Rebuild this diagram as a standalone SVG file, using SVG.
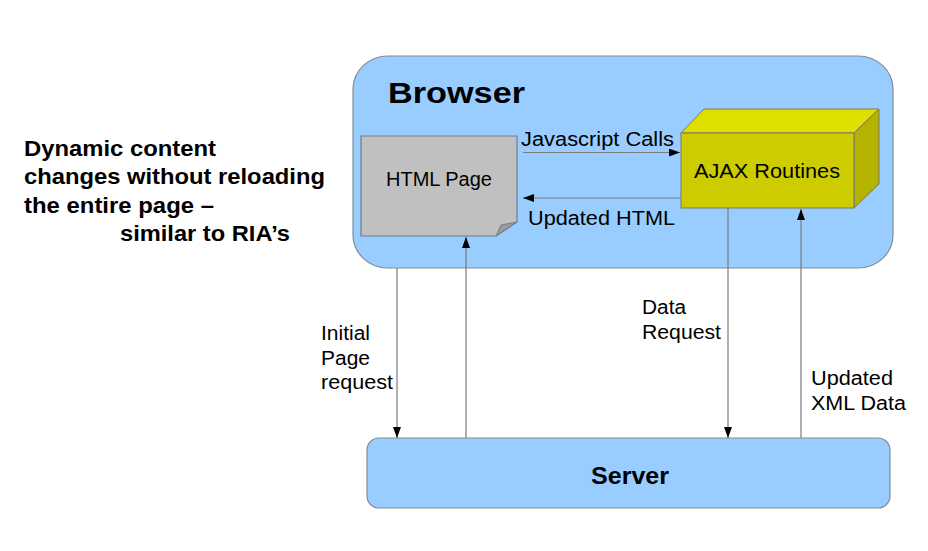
<svg xmlns="http://www.w3.org/2000/svg" width="928" height="551" viewBox="0 0 928 551">
<defs>
<style>
.t{font-family:"Liberation Sans",Arial,sans-serif;fill:#000}
.b{font-weight:bold}
.ln{stroke:#7a7a7a;stroke-width:1.2;fill:none}
.box{fill:#99ccff;stroke:#7f8c99;stroke-width:1.2}
</style>
<marker id="ah" viewBox="0 0 11 8" refX="11" refY="4" markerWidth="11" markerHeight="8" markerUnits="userSpaceOnUse" orient="auto">
<path d="M0,0 L11,4 L0,8 Z" fill="#000"/>
</marker>
</defs>
<rect width="928" height="551" fill="#fff"/>
<g id="caption">
<text class="t b" x="24" y="156" font-size="22" textLength="192" lengthAdjust="spacingAndGlyphs">Dynamic content</text>
<text class="t b" x="24" y="184" font-size="22" textLength="301" lengthAdjust="spacingAndGlyphs">changes without reloading</text>
<text class="t b" x="24" y="213" font-size="22" textLength="190" lengthAdjust="spacingAndGlyphs">the entire page –</text>
<text class="t b" x="120" y="241" font-size="22" textLength="170" lengthAdjust="spacingAndGlyphs">similar to RIA’s</text>
</g>
<g id="browser">
<rect class="box" x="353" y="56" width="540" height="212" rx="35" ry="33"/>
<text class="t b" x="388" y="103" font-size="30" textLength="137" lengthAdjust="spacingAndGlyphs">Browser</text>
</g>
<g id="html-page">
<path d="M361,136 H517 V222 L496,236 H361 Z" fill="#c0c0c0" stroke="#6f7f8f" stroke-width="1.2"/>
<path d="M496,236 L517,222 L501,225 Z" fill="#9a9a9a" stroke="#6f7f8f" stroke-width="1"/>
<text class="t" x="386" y="186" font-size="20" textLength="106" lengthAdjust="spacingAndGlyphs">HTML Page</text>
</g>
<g id="ajax">
<path d="M681,133 L704,109 H879 L854,133 Z" fill="#e0e000" stroke="#7a7a5a" stroke-width="1"/>
<path d="M854,133 L879,109 V184 L854,208 Z" fill="#b3b300" stroke="#7a7a5a" stroke-width="1"/>
<rect x="681" y="133" width="173" height="75" fill="#cccc00" stroke="#7a7a5a" stroke-width="1"/>
<text class="t" x="694" y="178" font-size="21" textLength="146" lengthAdjust="spacingAndGlyphs">AJAX Routines</text>
</g>
<g id="server">
<rect class="box" x="367" y="438" width="523" height="70" rx="12"/>
<text class="t b" x="591" y="484" font-size="24" textLength="78" lengthAdjust="spacingAndGlyphs">Server</text>
</g>
<g id="connectors">
<line class="ln" x1="523" y1="152.5" x2="680" y2="152.5" marker-end="url(#ah)"/>
<line class="ln" x1="681" y1="198" x2="523" y2="198" marker-end="url(#ah)"/>
<line class="ln" x1="397" y1="268" x2="397" y2="438" marker-end="url(#ah)"/>
<line class="ln" x1="466" y1="438" x2="466" y2="237" marker-end="url(#ah)"/>
<line class="ln" x1="728" y1="208" x2="728" y2="438" marker-end="url(#ah)"/>
<line class="ln" x1="801" y1="438" x2="801" y2="209" marker-end="url(#ah)"/>
</g>
<g id="labels">
<text class="t" x="521" y="146" font-size="20" textLength="153" lengthAdjust="spacingAndGlyphs">Javascript Calls</text>
<text class="t" x="528" y="225" font-size="20" textLength="147" lengthAdjust="spacingAndGlyphs">Updated HTML</text>
<text class="t" x="321" y="340" font-size="20" textLength="49" lengthAdjust="spacingAndGlyphs">Initial</text>
<text class="t" x="321" y="365" font-size="20" textLength="49" lengthAdjust="spacingAndGlyphs">Page</text>
<text class="t" x="321" y="389" font-size="20" textLength="72" lengthAdjust="spacingAndGlyphs">request</text>
<text class="t" x="642" y="314" font-size="20" textLength="44" lengthAdjust="spacingAndGlyphs">Data</text>
<text class="t" x="642" y="339" font-size="20" textLength="79" lengthAdjust="spacingAndGlyphs">Request</text>
<text class="t" x="811" y="385" font-size="20" textLength="82" lengthAdjust="spacingAndGlyphs">Updated</text>
<text class="t" x="811" y="410" font-size="20" textLength="95" lengthAdjust="spacingAndGlyphs">XML Data</text>
</g>
</svg>
